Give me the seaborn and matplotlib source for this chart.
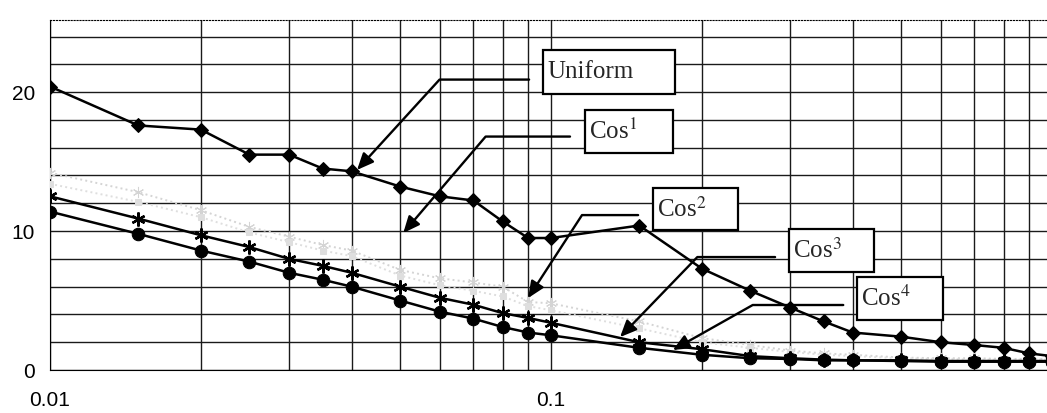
import pandas as pd
import seaborn as sns
import matplotlib.pyplot as plt
from matplotlib.patches import Rectangle

# x positions (log axis)
x_vals = [0.01, 0.015, 0.02, 0.025, 0.03, 0.035, 0.04, 0.05, 0.06, 0.07, 0.08,
          0.09, 0.1, 0.15, 0.2, 0.25, 0.3, 0.35, 0.4, 0.5, 0.6, 0.7, 0.8, 0.9, 1.0]

uniform = [20.4, 17.6, 17.3, 15.5, 15.5, 14.5, 14.3, 13.2, 12.5, 12.2, 10.7,
           9.5, 9.5, 10.4, 7.3, 5.7, 4.5, 3.5, 2.7, 2.4, 2.0, 1.8, 1.6, 1.2, 1.0]
cos1 = [14.2, 12.8, 11.5, 10.3, 9.6, 9.0, 8.6, 7.2, 6.6, 6.3, 6.0,
        4.9, 4.8, 3.5, 2.3, 1.8, 1.4, 1.2, 1.1, 0.9, 0.85, 0.85, 0.8, 0.8, 0.8]
cos2 = [13.4, 12.1, 11.0, 9.9, 9.2, 8.6, 8.2, 6.8, 6.1, 5.7, 5.3,
        4.6, 4.3, 3.0, 2.0, 1.6, 1.3, 1.1, 1.0, 0.85, 0.8, 0.75, 0.75, 0.75, 0.75]
cos3 = [12.5, 10.9, 9.7, 8.85, 8.0, 7.5, 7.0, 6.0, 5.2, 4.7, 4.1,
        3.75, 3.4, 2.0, 1.5, 1.0, 0.85, 0.75, 0.7, 0.7, 0.65, 0.65, 0.65, 0.65, 0.65]
cos4 = [11.4, 9.8, 8.6, 7.8, 7.0, 6.5, 6.0, 5.0, 4.2, 3.7, 3.1,
        2.7, 2.5, 1.6, 1.1, 0.85, 0.8, 0.7, 0.7, 0.65, 0.6, 0.6, 0.6, 0.6, 0.6]

labels = ['Uniform', 'Cos$^{1}$', 'Cos$^{2}$', 'Cos$^{3}$', 'Cos$^{4}$']

sns.set_style('white')
plt.rcParams['font.family'] = ['Liberation Sans', 'DejaVu Sans']
plt.rcParams['mathtext.fontset'] = 'stix'

fig = plt.figure(figsize=(10.47, 4.13), dpi=100)
ax = fig.add_axes([0.0478, 0.104, 1.0 - 0.0478, 0.952 - 0.104])

styles = [
    dict(color='black', marker='D', markersize=7, lw=1.8, zorder=5),
    dict(color='#d4d4d4', marker=(6, 2, 0), markersize=8, lw=1.4, ls=':', zorder=3),
    dict(color='#dedede', marker='s', markersize=5, lw=1.4, ls=':', zorder=3),
    dict(color='black', marker=(6, 2, 0), markersize=10, markeredgewidth=1.7, lw=1.8, zorder=5),
    dict(color='black', marker='o', markersize=9, lw=1.8, zorder=5),
]
for vals, st in zip([uniform, cos1, cos2, cos3, cos4], styles):
    df = pd.DataFrame({'x': x_vals, 'y': vals})
    sns.lineplot(data=df, x='x', y='y', ax=ax, legend=False,
                 markeredgecolor=st['color'], **st)

ax.set_xscale('log')
ax.set_xlim(0.01, 0.977)
ax.set_ylim(0, 25.2)
ax.set_xlabel('')
ax.set_ylabel('')

ax.set_xticks([0.01, 0.1])
ax.set_xticklabels(['0.01', '0.1'])
ax.set_xticks([v / 100 for v in range(2, 10)] + [v / 10 for v in range(2, 10)], minor=True)
ax.set_xticklabels([], minor=True)
ax.set_yticks([0, 10, 20])
ax.set_yticks(range(2, 26, 2), minor=True)

ax.grid(which='both', color='#1a1a1a', lw=1.0)
ax.set_axisbelow(True)
ax.tick_params(which='major', direction='out', length=5, width=1, color='black',
               labelsize=15, labelcolor='black')
ax.tick_params(axis='x', which='major', length=4, pad=11)
ax.tick_params(axis='y', which='major', pad=6)
ax.tick_params(which='minor', length=0)
ax.spines['left'].set_color('black')
ax.spines['bottom'].set_color('black')
ax.spines['top'].set_color('black')
ax.spines['top'].set_linestyle(':')
ax.spines['right'].set_visible(False)

# callout boxes: (x0, x1, y0, y1), line start, arrow tip, diagonal angle
box_pos = [(0.0964, 0.1768, 19.86, 23.02), (0.1169, 0.1752, 15.61, 18.71),
           (0.1598, 0.2362, 10.07, 13.09), (0.2985, 0.4413, 7.05, 10.14),
           (0.408, 0.606, 3.60, 6.69)]
line_start = [(0.0904, 20.9), (0.1091, 16.8), (0.1492, 11.15), (0.280, 8.13), (0.383, 4.68)]
arrow_tip = [(0.0410, 14.4), (0.0507, 9.86), (0.0900, 5.18), (0.1373, 2.37), (0.175, 1.44)]
diag_angle = [47.6, 49.5, 57.0, 46.0, 29.4]

for lab, (x0, x1, y0, y1), start, tip, ang in zip(labels, box_pos, line_start, arrow_tip, diag_angle):
    ax.add_patch(Rectangle((x0, y0), x1 - x0, y1 - y0, facecolor='white',
                           edgecolor='black', lw=1.6, zorder=8))
    ax.annotate(lab, xy=(x0, (y0 + y1) / 2), xytext=(3, 0), textcoords='offset points',
                va='center', ha='left', fontsize=18, family='Liberation Serif', zorder=9)
    ax.annotate('', xy=tip, xytext=start,
                arrowprops=dict(arrowstyle='-|>,head_length=0.5,head_width=0.22',
                                connectionstyle=f'angle,angleA=0,angleB={ang},rad=0',
                                color='black', lw=1.7, mutation_scale=20,
                                shrinkA=0, shrinkB=0),
                zorder=7)

fig.savefig('out.png', dpi=100)
